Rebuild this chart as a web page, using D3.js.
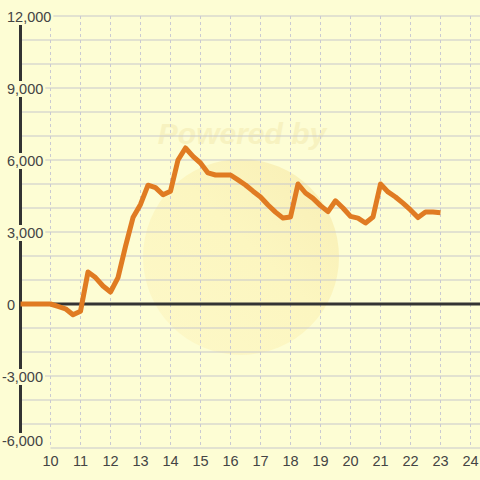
<!DOCTYPE html>
<html><head><meta charset="utf-8">
<script src="https://cdn.jsdelivr.net/npm/d3@7"></script>
<style>html,body{margin:0;padding:0;background:#fdfdd4;}svg{display:block;}</style>
</head><body>
<svg id="c" width="480" height="480"></svg>
<script>
const hours = [9,9.25,9.5,9.75,10,10.25,10.5,10.75,11,11.25,11.5,11.75,12,12.25,12.5,12.75,13,13.25,13.5,13.75,14,14.25,14.5,14.75,15,15.25,15.5,15.75,16,16.25,16.5,16.75,17,17.25,17.5,17.75,18,18.25,18.5,18.75,19,19.25,19.5,19.75,20,20.25,20.5,20.75,21,21.25,21.5,21.75,22,22.25,22.5,22.75,23];
const values = [0,0,0,0,0,-100,-200,-450,-300,1330,1100,750,500,1100,2400,3600,4150,4950,4850,4550,4700,6000,6500,6150,5875,5460,5375,5375,5375,5170,4960,4700,4460,4125,3830,3580,3625,5000,4625,4400,4100,3850,4300,4000,3650,3580,3375,3625,5000,4670,4460,4200,3920,3600,3830,3830,3800];
const xTicks = [10,11,12,13,14,15,16,17,18,19,20,21,22,23,24];
const yTicks = [-6000,-3000,0,3000,6000,9000,12000];
const yGrid = [-5000,-4000,-3000,-2000,-1000,1000,2000,3000,4000,5000,6000,7000,8000,9000,10000,11000,12000];

const svg = d3.select("#c");
const x = d3.scaleLinear().domain([9,24]).range([20.5,470.5]);
const y = d3.scaleLinear().domain([-6000,12000]).range([448,16]);
const bg = "#fdfdd4";
svg.append("rect").attr("width",480).attr("height",480).attr("fill",bg);

// watermark
const defs = svg.append("defs");
const g = defs.append("linearGradient").attr("id","wm").attr("x1","0").attr("y1","1").attr("x2","1").attr("y2","0");
g.append("stop").attr("offset","0").attr("stop-color","#fdf8c8");
g.append("stop").attr("offset","0.55").attr("stop-color","#fcf6c0");
g.append("stop").attr("offset","1").attr("stop-color","#f8eeb4");
svg.append("circle").attr("cx",241).attr("cy",257).attr("r",98).attr("fill","url(#wm)");
svg.append("text").attr("x",242).attr("y",144).attr("text-anchor","middle")
  .attr("font-family","Liberation Sans, Arial, sans-serif").attr("font-weight","bold").attr("font-style","italic")
  .attr("font-size",30).attr("fill","#f7f2c0").text("Powered by");

// horizontal grid
svg.append("g").selectAll("line").data(yGrid).join("line")
  .attr("x1",21).attr("x2",480).attr("y1",d=>y(d)).attr("y2",d=>y(d))
  .attr("stroke","#c8c8cc").attr("stroke-width",1.2);
// bottom line
svg.append("line").attr("x1",x(10)).attr("x2",480).attr("y1",y(-6000)).attr("y2",y(-6000))
  .attr("stroke","#c8c8cc").attr("stroke-width",1.2);
// vertical dashed grid
svg.append("g").selectAll("line").data(xTicks).join("line")
  .attr("x1",d=>x(d)).attr("x2",d=>x(d)).attr("y1",y(12000)).attr("y2",y(-6000))
  .attr("stroke","#cacad2").attr("stroke-width",1).attr("stroke-dasharray","3,3");

// y axis line
svg.append("line").attr("x1",x(9)).attr("x2",x(9)).attr("y1",y(12000)).attr("y2",y(-6000))
  .attr("stroke","#333").attr("stroke-width",3);
// zero line
svg.append("line").attr("x1",x(9)).attr("x2",480).attr("y1",y(0)).attr("y2",y(0))
  .attr("stroke","#333").attr("stroke-width",3);

// data line
const line = d3.line().x((d,i)=>x(hours[i])).y(d=>y(d));
svg.append("path").datum(values).attr("d",line).attr("fill","none")
  .attr("stroke","#e07b22").attr("stroke-width",5).attr("stroke-linejoin","round");

// y labels
const fmt = d3.format(",");
const yl = svg.append("g").attr("font-family","Liberation Sans, Arial, sans-serif").attr("font-size",14.5).attr("fill","#444");
yTicks.forEach(v=>{
  const cy = Math.min(y(v)+1, y(-6000)-7);
  const t = yl.append("text").attr("y",cy).attr("dy","0.36em").text(fmt(v).replace("−","-"));
  if (v<0) t.attr("x",43).attr("text-anchor","end"); else t.attr("x",7);
  const bb = t.node().getBBox();
  yl.insert("rect","text").attr("x",bb.x-1).attr("y",cy-8).attr("width",bb.width+3).attr("height",16).attr("fill",bg);
});
// x labels
svg.append("g").attr("font-family","Liberation Sans, Arial, sans-serif").attr("font-size",14.5).attr("fill","#444")
  .selectAll("text").data(xTicks).join("text")
  .attr("x",d=>x(d)).attr("y",466).attr("text-anchor","middle").text(d=>d);
</script>
</body></html>
